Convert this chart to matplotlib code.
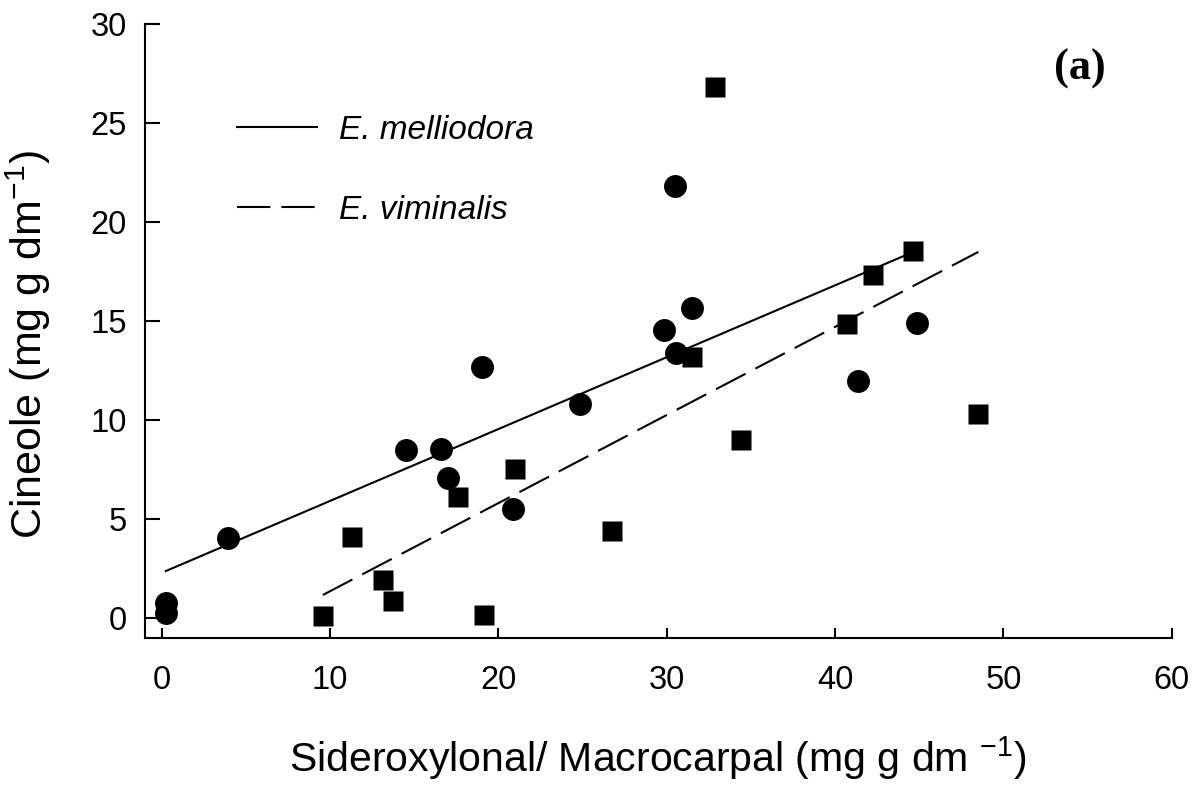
import matplotlib
matplotlib.use("Agg")
import matplotlib.pyplot as plt
import numpy as np

plt.rcParams['font.family'] = ['Liberation Sans', 'DejaVu Sans']
plt.rcParams['mathtext.fontset'] = 'custom'
plt.rcParams['mathtext.rm'] = 'Liberation Sans'
plt.rcParams['mathtext.it'] = 'Liberation Sans:italic'

# E. melliodora (circles)
mel_x = [0.24, 0.24, 3.94, 14.52, 16.58, 17.01, 19.01, 20.89, 24.87, 29.85, 30.48, 30.56, 31.49, 41.36, 44.86]
mel_y = [0.25, 0.75, 4.04, 8.49, 8.52, 7.09, 12.66, 5.52, 10.80, 14.55, 21.83, 13.40, 15.63, 11.97, 14.92]

# E. viminalis (squares)
vim_x = [9.57, 11.30, 13.13, 13.76, 17.60, 19.15, 20.97, 26.76, 31.50, 32.88, 34.40, 40.70, 42.28, 44.66, 48.52]
vim_y = [0.12, 4.10, 1.92, 0.86, 6.10, 0.14, 7.51, 4.41, 13.20, 26.80, 9.00, 14.83, 17.33, 18.54, 10.30]

# regression lines (intercept, slope)
mel_fit = (2.28, 0.363)
vim_fit = (-3.10, 0.445)

fig = plt.figure(figsize=(12.01, 7.87), dpi=100)
ax = fig.add_axes([0.1207, 0.1897, 0.8549, 0.7798])

dash = (0, (16, 5.3))

xl = np.array([min(mel_x), max(mel_x)])
ax.plot(xl, mel_fit[0] + mel_fit[1] * xl, color='black', lw=1.5, label='E. melliodora')
xv = np.array([min(vim_x), max(vim_x)])
ax.plot(xv, vim_fit[0] + vim_fit[1] * xv, color='black', lw=1.5, linestyle=dash, label='E. viminalis')

ax.plot(mel_x, mel_y, 'o', color='black', ms=16.5, mec='none', zorder=3)
ax.plot(vim_x, vim_y, 's', color='black', ms=15, mec='none', zorder=3)

ax.set_xlim(-1, 60)
ax.set_ylim(-1, 30)
ax.set_xticks(np.arange(0, 61, 10))
ax.set_yticks(np.arange(0, 31, 5))

for s in ['top', 'right']:
    ax.spines[s].set_visible(False)
for s in ['left', 'bottom']:
    ax.spines[s].set_linewidth(1.5)

ax.tick_params(axis='x', direction='in', length=7.5, width=1.5, labelsize=23.5, pad=19.5)
ax.tick_params(axis='y', direction='in', length=11, width=1.5, labelsize=23.5, pad=13)

ax.set_xlabel('Sideroxylonal/ Macrocarpal (mg g dm $^{-1}$)', fontsize=29.5)
ax.set_ylabel('Cineole (mg g dm$^{-1}$)', fontsize=31)
ax.xaxis.set_label_coords(0.5, -0.158)
ax.yaxis.set_label_coords(-0.0896, 0.477)

leg = ax.legend(loc='upper left', bbox_to_anchor=(0.0896, 0.852), frameon=False,
                fontsize=24, handlelength=2.4, handletextpad=0.66,
                labelspacing=1.47, borderpad=0, borderaxespad=0)
for t in leg.get_texts():
    t.set_fontstyle('italic')

ax.text(0.9107, 0.927, '(a)', transform=ax.transAxes, fontsize=32, fontweight='bold',
        family='Liberation Serif', ha='center', va='center')

fig.savefig('out.png', dpi=100)
